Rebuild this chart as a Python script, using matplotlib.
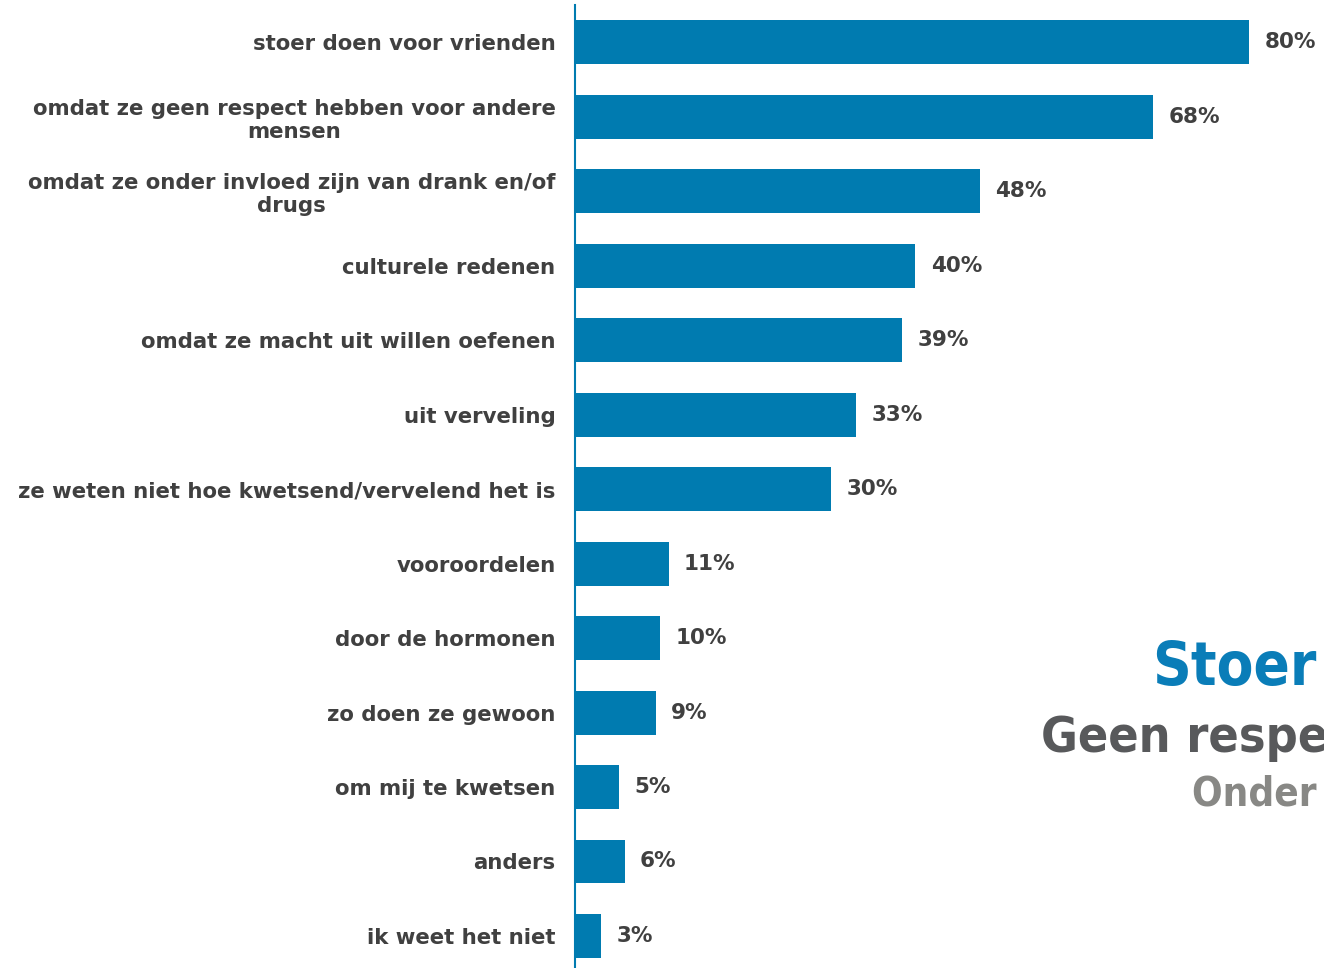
import matplotlib
matplotlib.use('Agg')
import matplotlib.pyplot as plt

labels = [
    'stoer doen voor vrienden',
    'omdat ze geen respect hebben voor andere\nmensen',
    'omdat ze onder invloed zijn van drank en/of\ndrugs',
    'culturele redenen',
    'omdat ze macht uit willen oefenen',
    'uit verveling',
    'ze weten niet hoe kwetsend/vervelend het is',
    'vooroordelen',
    'door de hormonen',
    'zo doen ze gewoon',
    'om mij te kwetsen',
    'anders',
    'ik weet het niet',
]
values = [80, 68.6, 48.1, 40.4, 38.8, 33.4, 30.4, 11.1, 10.1, 9.6, 5.2, 5.9, 3.1]
pct_labels = ['80%', '68%', '48%', '40%', '39%', '33%', '30%', '11%', '10%',
              '9%', '5%', '6%', '3%']

blue = '#007BB0'
text_dark = '#404040'

fig = plt.figure(figsize=(13.24, 9.68), dpi=100)
ax = fig.add_axes([575 / 1324, 0, 1 - 575 / 1324, 1 - 5 / 968])

y = range(len(values))
ax.barh(y, values, height=0.59, color=blue)
ax.set_xlim(0, (1324 - 575) / 8.425)
ax.set_ylim(12.43, -0.5)

for i, v in enumerate(values):
    ax.annotate(pct_labels[i], (v, i), xytext=(11, 0), textcoords='offset points',
                va='center', ha='left', fontsize=15.5, fontweight='bold',
                color=text_dark)

ax.set_yticks(list(y))
ax.set_yticklabels(labels, fontsize=15.3, fontweight='bold', color=text_dark,
                   multialignment='center', linespacing=1.2)
ax.tick_params(axis='y', length=0, pad=14)
ax.set_xticks([])
for s in ['top', 'right', 'bottom']:
    ax.spines[s].set_visible(False)
ax.spines['left'].set_color(blue)
ax.spines['left'].set_linewidth(1.5)

# big words on the right, cut off by the figure edge as in the original
fig.text(1152 / 1324, 1 - 685 / 968, 'Stoer', fontsize=43, fontweight='bold',
         fontstretch='condensed', color='#0A7DB8', ha='left', va='baseline')
fig.text(1041 / 1324, 1 - 752 / 968, 'Geen respect', fontsize=36, fontweight='bold',
         fontstretch='condensed', color='#58595B', ha='left', va='baseline')
fig.text(1192 / 1324, 1 - 805 / 968, 'Onder invloed', fontsize=29, fontweight='bold',
         fontstretch='condensed', color='#888885', ha='left', va='baseline')

fig.savefig('out.png', dpi=100)
